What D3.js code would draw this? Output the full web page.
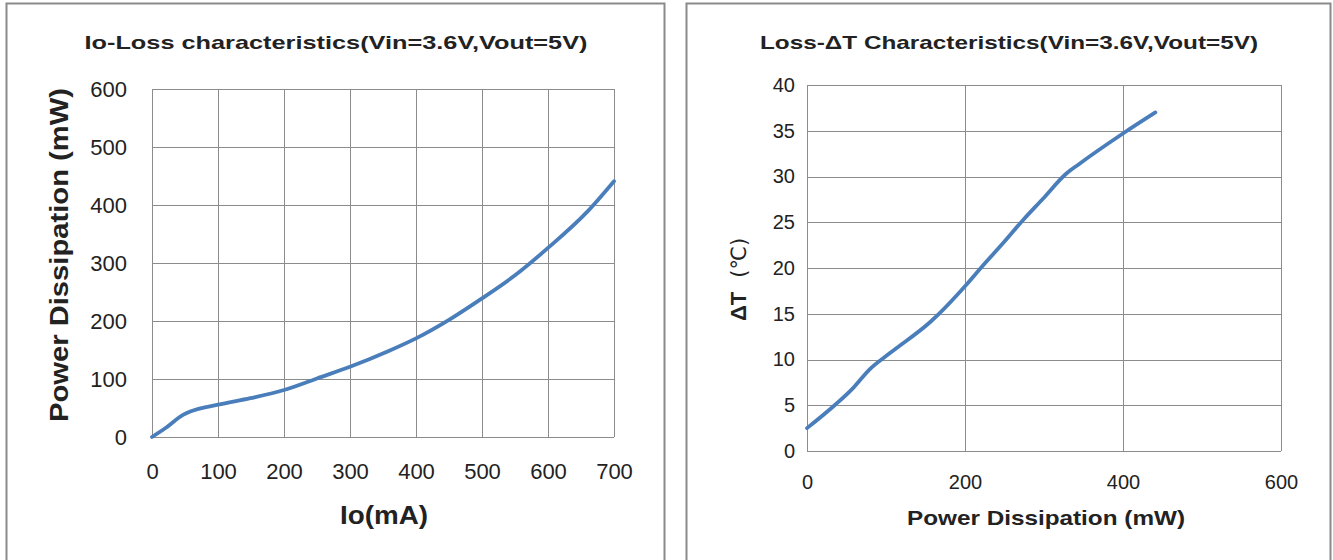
<!DOCTYPE html>
<html><head><meta charset="utf-8">
<script src="https://cdn.jsdelivr.net/npm/d3@7"></script>
<style>body{margin:0;background:#fff}svg{display:block}text{font-family:"Liberation Sans",Arial,sans-serif;fill:#222}</style>
</head><body><svg id="c" width="1333" height="560"></svg>
<script>
// Chart 1: Io vs Loss
const ioValues   = [0, 20, 47, 58, 100, 149, 200, 250, 300, 356, 400, 450, 500, 548, 600, 660, 700];
const lossValues = [0, 15, 38, 44, 55.7, 67, 81, 101, 121, 147, 170, 202, 239, 277, 326, 389, 441];
const ioTicks = [0,100,200,300,400,500,600,700];
const lossTicks = [0,100,200,300,400,500,600];
// Chart 2: Loss vs dT
const pdValues = [0, 35, 58, 79, 105, 156, 166, 200, 223, 248, 273, 299, 328, 345, 400, 441];
const dtValues = [2.5, 5.0, 6.85, 8.9, 10.7, 14.1, 14.9, 18.0, 20.3, 22.7, 25.2, 27.6, 30.3, 31.4, 34.7, 37.0];
const pdTicks = [0,200,400,600];
const dtTicks = [0,5,10,15,20,25,30,35,40];

const svg = d3.select("#c");
const lineColor = "#4a7ebb";

// panel borders
svg.append("path").attr("d","M6.5,565 V3.5 H664.5 V565").attr("fill","none").attr("stroke","#8a8a8a").attr("stroke-width",2);
svg.append("path").attr("d","M686.5,565 V3.5 H1330.5 V565").attr("fill","none").attr("stroke","#8a8a8a").attr("stroke-width",2);

function chart(o){
  const g = svg.append("g");
  const x = d3.scaleLinear().domain(o.xd).range([o.x0,o.x1]);
  const y = d3.scaleLinear().domain(o.yd).range([o.y0,o.y1]);
  g.append("g").selectAll("line").data(o.xt).join("line")
    .attr("x1",d=>Math.round(x(d))+0.5).attr("x2",d=>Math.round(x(d))+0.5)
    .attr("y1",o.y1).attr("y2",o.y0).attr("stroke","#8c8c8c").attr("stroke-width",1);
  g.append("g").selectAll("line").data(o.yt).join("line")
    .attr("y1",d=>Math.round(y(d))+0.5).attr("y2",d=>Math.round(y(d))+0.5)
    .attr("x1",o.x0).attr("x2",o.x1).attr("stroke","#8c8c8c").attr("stroke-width",1);
  const xa = d3.axisBottom(x).tickValues(o.xt).tickSize(0).tickPadding(o.xpad);
  const ya = d3.axisLeft(y).tickValues(o.yt).tickSize(0).tickPadding(o.ypad);
  const gx = g.append("g").attr("transform",`translate(0,${o.y0})`).call(xa);
  const gy = g.append("g").attr("transform",`translate(${o.x0},0)`).call(ya);
  [gx,gy].forEach(a=>{a.select(".domain").remove();a.selectAll("text").style("font-family","Liberation Sans, Arial, sans-serif").style("font-size",o.fs+"px").attr("fill","#222");});
  g.append("path").datum(o.xs.map((v,i)=>[v,o.ys[i]]))
    .attr("d",d3.line().x(d=>x(d[0])).y(d=>y(d[1])).curve(d3.curveMonotoneX))
    .attr("fill","none").attr("stroke",lineColor).attr("stroke-width",3.8).attr("stroke-linecap","round");
  g.append("text").attr("x",o.tx).attr("y",o.ty).attr("text-anchor","middle").attr("font-weight","bold")
    .attr("font-size",o.tfs).attr("textLength",o.tlen).attr("lengthAdjust","spacingAndGlyphs").text(o.title);
  g.append("text").attr("x",o.xtx).attr("y",o.xty).attr("text-anchor","middle").attr("font-weight","bold")
    .attr("font-size",o.afs).attr("textLength",o.xtlen).attr("lengthAdjust","spacingAndGlyphs").text(o.xtitle);
  return g;
}

const g1 = chart({xd:[0,700],yd:[0,600],x0:152,x1:614,y0:437,y1:89,xt:ioTicks,yt:lossTicks,xs:ioValues,ys:lossValues,
  fs:22,xpad:26,ypad:25,
  title:"Io-Loss characteristics(Vin=3.6V,Vout=5V)",tx:336,ty:49,tfs:19,tlen:503,
  xtitle:"Io(mA)",xtx:384,xty:524,afs:26,xtlen:88});
g1.append("text").attr("transform","translate(68,255) rotate(-90)").attr("text-anchor","middle").attr("font-weight","bold")
  .attr("font-size",26).attr("textLength",334).attr("lengthAdjust","spacingAndGlyphs").text("Power Dissipation (mW)");

const g2 = chart({xd:[0,600],yd:[0,40],x0:807,x1:1281,y0:451,y1:85,xt:pdTicks,yt:dtTicks,xs:pdValues,ys:dtValues,
  fs:20,xpad:24,ypad:12,
  title:"Loss-\u0394T Characteristics(Vin=3.6V,Vout=5V)",tx:1009,ty:49,tfs:19,tlen:498,
  xtitle:"Power Dissipation (mW)",xtx:1046,xty:525,afs:21,xtlen:278});
const yt2 = g2.append("text").attr("transform","translate(746,321) rotate(-90)").attr("text-anchor","start");
yt2.append("tspan").attr("font-weight","bold").attr("font-size",22).text("\u0394T");
yt2.append("tspan").attr("font-size",21).attr("dx",14).attr("font-family","DejaVu Sans").text("(\u2103)");
</script></body></html>
